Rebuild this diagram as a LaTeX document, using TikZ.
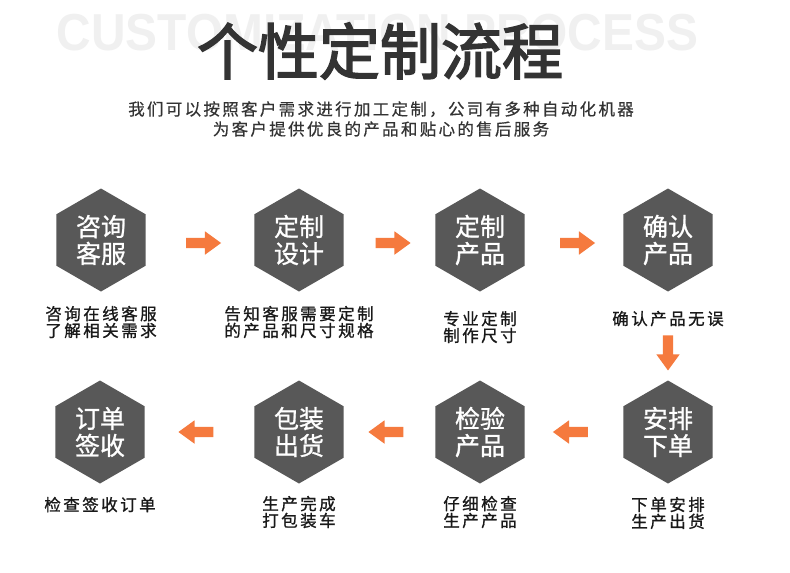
\documentclass[tikz,border=0pt]{standalone}
\usepackage{fontspec}
\setmainfont{Noto Sans CJK SC}
\newfontfamily\bgwordfont{Liberation Sans}
\usepackage{xcolor}
\usetikzlibrary{shapes.geometric, shapes.arrows, positioning, calc}
\definecolor{hexgray}{RGB}{88,88,88}
\definecolor{floworange}{RGB}{245,122,62}
\definecolor{captext}{RGB}{25,25,25}
\definecolor{titletext}{RGB}{51,51,51}
\definecolor{bgword}{RGB}{240,240,240}
\newcommand{\capfont}{\fontsize{16.5}{16.8}\selectfont\addfontfeature{LetterSpace=15,FakeBold=1}}
\newcommand{\subfont}{\fontsize{16.5}{20}\selectfont\addfontfeature{LetterSpace=14,FakeBold=0.5}}
\tikzset{
  hexblock/.style={
    regular polygon, regular polygon sides=6, shape border rotate=90,
    minimum size=103pt, inner sep=0pt, fill=hexgray, text=white,
    align=center, font=\fontsize{25}{27}\selectfont\addfontfeature{FakeBold=1}
  },
  captionnode/.style={
    align=center, inner sep=0pt, text=captext, font=\capfont
  },
  flowarrow/.style={
    single arrow, fill=floworange, minimum height=35pt, minimum width=23pt,
    single arrow head extend=6.5pt, single arrow tip angle=72, inner sep=0pt
  }
}
\newcommand{\shaft}{\rule{0pt}{10pt}}
\begin{document}
\begin{tikzpicture}[x=1pt, y=-1pt, node distance=15pt]
\fill[white] (0,0) rectangle (790,573);
\useasboundingbox (0,0) rectangle (790,573);

% heading
\node[text=bgword, font=\bgwordfont\bfseries\fontsize{52}{52}\selectfont,
  xscale=0.92, anchor=base, inner sep=0pt] (bgtitle) at (377.5,50) {CUSTOMIZATION PROCESS};
\node[text=titletext, font=\fontsize{61}{61}\selectfont\addfontfeature{FakeBold=2.5}, inner sep=0pt] (title) at (380,51) {个性定制流程};
\node[text=titletext, font=\subfont, align=center, inner sep=0pt] (sub) at (381,119)
  {我们可以按照客户需求进行加工定制，公司有多种自动化机器\\为客户提供优良的产品和贴心的售后服务};

% first row
\node[hexblock] (h1) at (101,240) {咨询\\客服};
\node[hexblock] (h2) at (299,240) {定制\\设计};
\node[hexblock] (h3) at (480,240) {定制\\产品};
\node[hexblock] (h4) at (668,240) {确认\\产品};

\node[captionnode, below=14pt of h1] (c1) {咨询在线客服\\了解相关需求};
\node[captionnode, below=14pt of h2] (c2) {告知客服需要定制\\的产品和尺寸规格};
\node[captionnode, below=19pt of h3] (c3) {专业定制\\制作尺寸};
\node[captionnode, below=19pt of h4] (c4) {确认产品无误};

% second row
\node[hexblock] (h5) at (668,432) {安排\\下单};
\node[hexblock] (h6) at (480,432) {检验\\产品};
\node[hexblock] (h7) at (299,432) {包装\\出货};
\node[hexblock] (h8) at (100,432) {订单\\签收};

\node[captionnode, below=13pt of h5] (c5) {下单安排\\生产出货};
\node[captionnode, below=12pt of h6] (c6) {仔细检查\\生产产品};
\node[captionnode, below=12pt of h7] (c7) {生产完成\\打包装车};
\node[captionnode, below=13pt of h8] (c8) {检查签收订单};

% arrows
\node[flowarrow, yshift=-3pt] (a12) at ($(h1)!0.5!(h2)$) {\shaft};
\node[flowarrow, yshift=-3pt] (a23) at ($(h2)!0.5!(h3)$) {\shaft};
\node[flowarrow, yshift=-3pt] (a34) at ($(h3)!0.5!(h4)$) {\shaft};
\node[flowarrow, rotate=-90] (a45) at ($(c4.south)!0.5!(h5.north)+(0,-4)$) {\shaft};
\node[flowarrow, rotate=180] (a56) at ($(h5)!0.5!(h6)$) {\shaft};
\node[flowarrow, rotate=180] (a67) at ($(h6)!0.5!(h7)$) {\shaft};
\node[flowarrow, rotate=180] (a78) at ($(h7)!0.5!(h8)$) {\shaft};

\end{tikzpicture}
\end{document}
